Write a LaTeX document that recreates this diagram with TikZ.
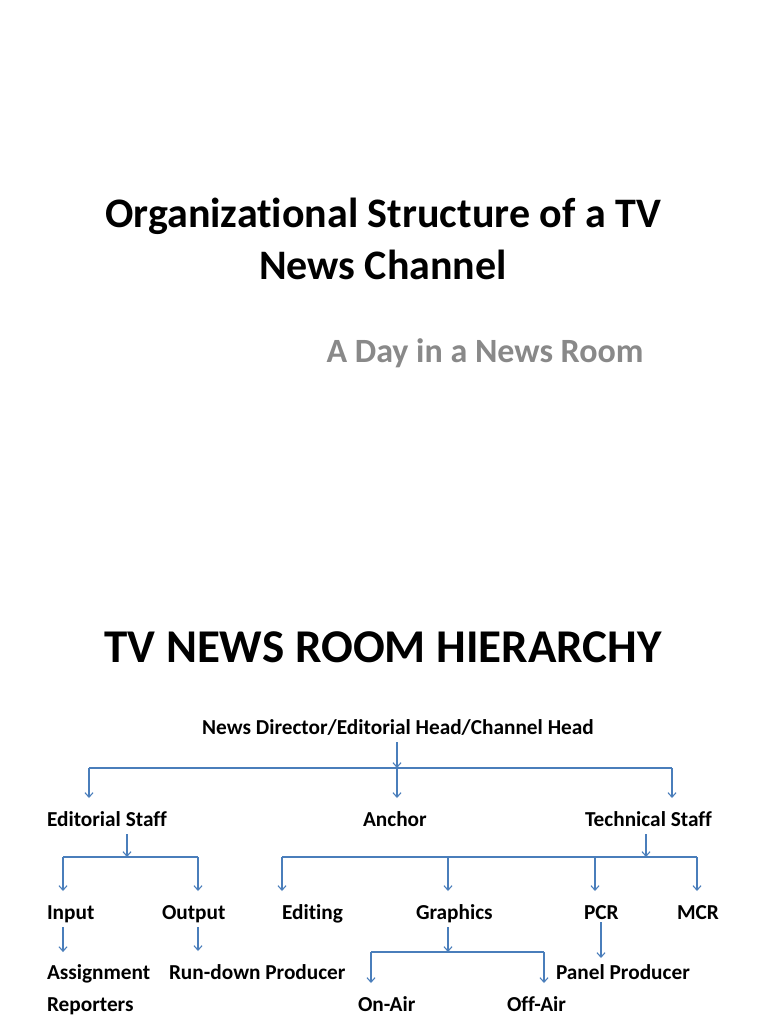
\documentclass[tikz,border=0pt]{standalone}
\usepackage{fontspec}
\setmainfont{Carlito}[Ligatures={NoCommon}]
\usetikzlibrary{arrows.meta}
\definecolor{linkblue}{HTML}{4A7EBB}
\definecolor{subgray}{HTML}{898989}
\begin{document}
\begin{tikzpicture}[x=1pt,y=-1pt,
  every node/.style={inner sep=0pt, outer sep=0pt},
  lbl/.style={font=\fontsize{21.3}{26}\selectfont\bfseries, anchor=base west,
    text height=26pt, text depth=6pt, inner ysep=2pt, inner xsep=0pt},
  link/.style={draw=linkblue, line width=1.1pt},
  arr/.style={link, -{Straight Barb[length=4.5pt,width=8pt,line width=1.1pt]}}
]
\useasboundingbox[fill=white] (0,0) rectangle (768,1024);

% titles (base anchor of a multi-line node = baseline of its last line)
\node[font=\fontsize{42}{52}\selectfont\bfseries, align=center, anchor=base] (title) at (383,279)
  {Organizational Structure of a TV\\News Channel};
\node[font=\fontsize{34}{40}\selectfont\bfseries, text=subgray, anchor=base] (sub) at (485,362)
  {A Day in a News Room};
\node[font=\fontsize{47}{56}\selectfont\bfseries, anchor=base] (hier) at (383,662)
  {TV NEWS ROOM HIERARCHY};

% nodes
\node[lbl, anchor=base] (head) at (398,734) {News Director/Editorial Head/Channel Head};
\node[lbl] (es) at (47,826) {Editorial Staff};
\node[lbl] (anchor) at (363,826) {Anchor};
\node[lbl] (tech) at (585,826) {Technical Staff};
\node[lbl] (input) at (47,919) {Input};
\node[lbl] (output) at (162,919) {Output};
\node[lbl] (editing) at (282,919) {Editing};
\node[lbl] (graphics) at (416,919) {Graphics};
\node[lbl] (pcr) at (584,919) {PCR};
\node[lbl] (mcr) at (677,919) {MCR};
\node[font=\fontsize{21.3}{32}\selectfont\bfseries, align=left, anchor=base west,
  inner xsep=0pt, inner ysep=12pt] (assign) at (47,1011) {Assignment\\Reporters};
\node[lbl] (rundown) at (169,979) {Run-down Producer};
\node[lbl] (panel) at (556,979) {Panel Producer};
\node[lbl] (onair) at (358,1011) {On-Air};
\node[lbl] (offair) at (507,1011) {Off-Air};

% junction coordinates
\coordinate (aL) at (89,768);
\coordinate (aM) at (397,768);
\coordinate (aR) at (672,768);
\coordinate (bL) at (63,857);
\coordinate (bM) at (127,857);
\coordinate (bR) at (198,857);
\coordinate (cL) at (282,857);
\coordinate (cG) at (448,857);
\coordinate (cP) at (595,857);
\coordinate (cT) at (646,857);
\coordinate (cR) at (697,857);
\coordinate (dL) at (371,952);
\coordinate (dM) at (448,952);
\coordinate (dR) at (544,952);
\coordinate (pX) at (601,940);

% level 1
\draw[arr] (head.south -| aM) -- (aM);
\draw[link] (aL) -- (aR);
\draw[arr] (aL) -- (aL |- es.north);
\draw[arr] (aM) -- (aM |- anchor.north);
\draw[arr] (aR) -- (aR |- tech.north);

% editorial
\draw[arr] (es.south -| bM) -- (bM);
\draw[link] (bL) -- (bR);
\draw[arr] (bL) -- (bL |- input.north);
\draw[arr] (bR) -- (bR |- output.north);
\draw[arr] (input.south -| bL) -- (bL |- assign.north);
\draw[arr] (output.south -| bR) -- (bR |- rundown.north);

% technical
\draw[arr] (tech.south -| cT) -- (cT);
\draw[link] (cL) -- (cR);
\draw[arr] (cL) -- (cL |- editing.north);
\draw[arr] (cG) -- (cG |- graphics.north);
\draw[arr] (cP) -- (cP |- pcr.north);
\draw[arr] (cR) -- (cR |- mcr.north);

% graphics
\draw[arr] (graphics.south -| dM) -- (dM);
\draw[link] (dL) -- (dR);
\draw[arr] (dL) -- (dL |- onair.north);
\draw[arr] (dR) -- (dR |- offair.north);

% pcr
\draw[arr, shorten <=-5pt, shorten >=-7pt] (pcr.south -| pX) -- (pX |- panel.north);
\end{tikzpicture}
\end{document}
